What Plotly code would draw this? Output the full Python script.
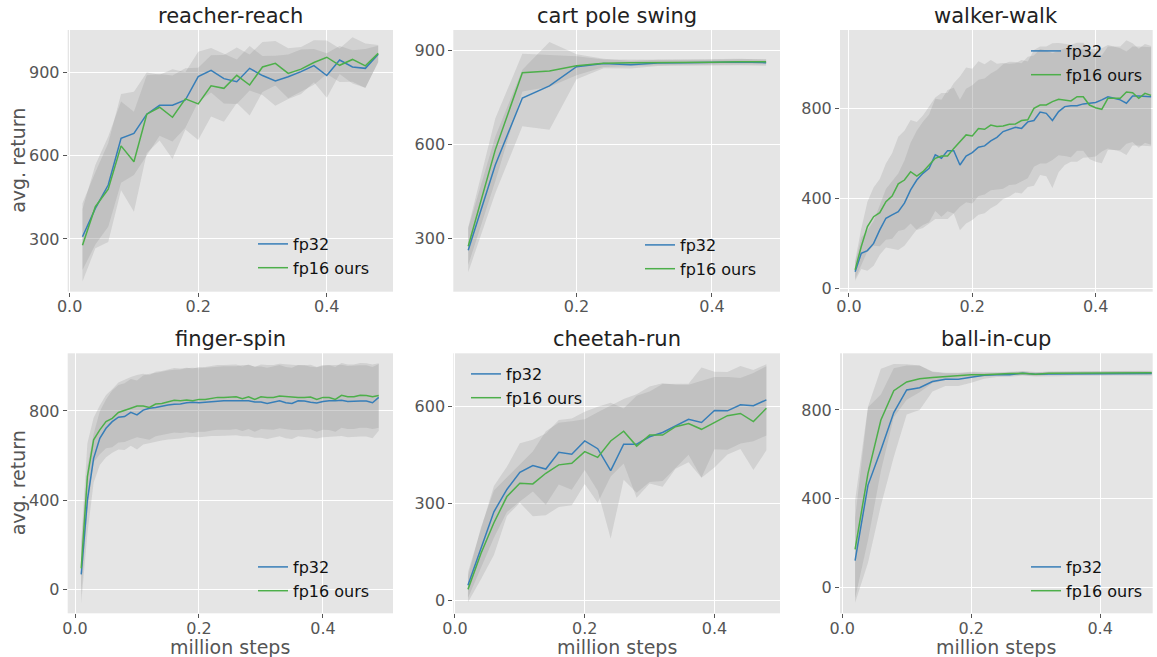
import plotly.graph_objects as go

# ---------------- data ----------------
titles = ["reacher-reach", "cart pole swing", "walker-walk",
          "finger-spin", "cheetah-run", "ball-in-cup"]
series_names = ["fp32", "fp16 ours"]

x_24 = [0.02, 0.04, 0.06, 0.08, 0.10, 0.12, 0.14, 0.16, 0.18, 0.20, 0.22, 0.24,
        0.26, 0.28, 0.30, 0.32, 0.34, 0.36, 0.38, 0.40, 0.42, 0.44, 0.46, 0.48]
x_12 = [0.04, 0.08, 0.12, 0.16, 0.20, 0.24, 0.28, 0.32, 0.36, 0.40, 0.44, 0.48]
x_49 = [0.01, 0.02, 0.03, 0.04, 0.05, 0.06, 0.07, 0.08, 0.09, 0.10,
        0.11, 0.12, 0.13, 0.14, 0.15, 0.16, 0.17, 0.18, 0.19, 0.20,
        0.21, 0.22, 0.23, 0.24, 0.25, 0.26, 0.27, 0.28, 0.29, 0.30,
        0.31, 0.32, 0.33, 0.34, 0.35, 0.36, 0.37, 0.38, 0.39, 0.40,
        0.41, 0.42, 0.43, 0.44, 0.45, 0.46, 0.47, 0.48, 0.49]

# reacher-reach
reacher_fp32 = [308, 410, 494, 662, 680, 749, 781, 781, 800, 884, 907, 877,
                866, 914, 888, 869, 884, 902, 924, 888, 944, 919, 914, 965]
reacher_fp16 = [277, 416, 479, 635, 578, 749, 774, 738, 804, 786, 851, 842,
                889, 854, 919, 932, 896, 911, 935, 954, 925, 946, 923, 968]
reacher_fp32_std = [120, 130, 150, 160, 150, 150, 110, 130, 100, 90, 80, 90,
                    80, 80, 70, 90, 80, 80, 60, 80, 50, 60, 70, 30]
reacher_fp16_std = [130, 150, 190, 160, 180, 140, 120, 150, 110, 130, 110, 120,
                    100, 110, 90, 80, 90, 80, 80, 60, 60, 80, 80, 30]

# cart pole swing
cart_fp32 = [262, 534, 747, 786, 847, 857, 853, 859, 860, 861, 862, 860]
cart_fp16 = [275, 582, 828, 833, 850, 858, 860, 860, 861, 861, 863, 863]
cart_fp32_std = [70, 90, 90, 140, 40, 15, 12, 10, 10, 10, 10, 10]
cart_fp16_std = [60, 100, 60, 50, 30, 12, 10, 8, 8, 8, 8, 8]

# walker-walk
walker_fp32 = [74, 156, 168, 200, 260, 312, 327, 341, 379, 438,
               482, 512, 534, 594, 579, 613, 613, 549, 589, 604,
               628, 634, 656, 672, 698, 709, 717, 712, 741, 747,
               785, 779, 747, 787, 809, 813, 813, 821, 824, 827,
               839, 853, 846, 839, 824, 856, 856, 856, 853]
walker_fp16 = [82, 186, 275, 319, 337, 386, 411, 465, 482, 519,
               500, 519, 549, 579, 589, 589, 623, 653, 683, 678,
               711, 708, 727, 720, 723, 730, 732, 747, 750, 801,
               816, 816, 831, 842, 839, 834, 853, 853, 816, 804,
               797, 846, 846, 846, 874, 871, 846, 868, 859]
walker_fp32_std = [40, 70, 90, 100, 110, 130, 150, 170, 190, 210,
                   220, 230, 240, 250, 260, 270, 280, 290, 300, 300,
                   300, 300, 300, 300, 300, 300, 290, 290, 290, 290,
                   280, 280, 300, 270, 260, 250, 250, 240, 240, 240,
                   230, 230, 230, 230, 230, 220, 220, 220, 220]
walker_fp16_std = [40, 80, 110, 130, 150, 170, 190, 210, 220, 230,
                   240, 250, 260, 270, 280, 280, 290, 290, 300, 300,
                   300, 290, 290, 280, 280, 270, 270, 270, 260, 260,
                   260, 260, 260, 250, 250, 250, 240, 240, 240, 240,
                   240, 230, 230, 230, 230, 220, 220, 220, 220]

# finger-spin
finger_fp32 = [66, 400, 587, 677, 722, 752, 772, 775, 794, 782,
               804, 812, 816, 822, 827, 830, 831, 837, 839, 837,
               840, 842, 843, 846, 846, 846, 846, 846, 840, 840,
               834, 840, 846, 837, 834, 846, 845, 839, 836, 842,
               846, 846, 848, 842, 845, 845, 845, 837, 861]
finger_fp16 = [93, 505, 670, 715, 752, 767, 793, 801, 812, 822,
               822, 816, 831, 834, 842, 848, 846, 849, 846, 852,
               852, 857, 861, 861, 861, 864, 855, 864, 852, 864,
               861, 861, 867, 864, 860, 860, 860, 863, 852, 861,
               860, 852, 870, 864, 864, 870, 869, 864, 869]
finger_fp32_std = [130, 150, 110, 120, 130, 140, 145, 150, 150, 155,
                   155, 155, 155, 155, 155, 155, 155, 155, 155, 155,
                   155, 155, 155, 155, 155, 155, 160, 160, 160, 160,
                   160, 160, 160, 160, 160, 160, 160, 160, 160, 160,
                   160, 160, 160, 160, 160, 160, 160, 160, 150]
finger_fp16_std = [120, 150, 100, 110, 120, 130, 135, 140, 140, 140,
                   145, 145, 145, 145, 145, 145, 145, 145, 145, 145,
                   145, 145, 145, 145, 145, 145, 145, 145, 145, 145,
                   145, 145, 145, 145, 145, 145, 145, 145, 145, 145,
                   145, 145, 145, 145, 145, 145, 145, 145, 145]

# cheetah-run
cheetah_fp32 = [48, 162, 275, 344, 397, 418, 407, 459, 453, 494, 470, 402,
                484, 484, 507, 520, 540, 561, 551, 588, 587, 606, 603, 621]
cheetah_fp16 = [35, 146, 241, 322, 363, 361, 394, 420, 425, 461, 443, 494,
                524, 478, 512, 512, 538, 548, 530, 552, 572, 579, 554, 595]
cheetah_fp32_std = [40, 60, 80, 70, 90, 80, 110, 100, 110, 90, 130, 210,
                    110, 150, 140, 150, 130, 110, 170, 120, 120, 120, 110, 110]
cheetah_fp16_std = [40, 80, 100, 60, 60, 100, 130, 130, 130, 100, 140, 110,
                    100, 160, 150, 160, 130, 120, 150, 140, 120, 110, 150, 130]

# ball-in-cup
ball_fp32 = [122, 462, 620, 788, 890, 900, 928, 938, 938, 947, 956, 958,
             959, 965, 961, 962, 962, 964, 965, 964, 965, 965, 965, 964]
ball_fp16 = [173, 515, 755, 887, 926, 940, 946, 950, 955, 959, 958, 962,
             964, 965, 961, 965, 965, 965, 967, 968, 968, 968, 968, 968]
ball_fp32_std = [190, 350, 250, 200, 110, 100, 45, 30, 30, 25, 15, 10,
                 10, 10, 10, 10, 10, 10, 10, 10, 10, 10, 10, 10]
ball_fp16_std = [220, 300, 230, 120, 80, 60, 25, 15, 10, 10, 8, 8,
                 8, 8, 8, 8, 8, 8, 8, 8, 8, 8, 8, 8]

x_ticks = [0.0, 0.2, 0.4]
x_ticklabels = ["0.0", "0.2", "0.4"]
y_ticks = [[300, 600, 900], [300, 600, 900], [0, 400, 800],
           [0, 400, 800], [0, 300, 600], [0, 400, 800]]

xs = [x_24, x_12, x_49, x_49, x_24, x_24]
fp32 = [reacher_fp32, cart_fp32, walker_fp32, finger_fp32, cheetah_fp32, ball_fp32]
fp16 = [reacher_fp16, cart_fp16, walker_fp16, finger_fp16, cheetah_fp16, ball_fp16]
fp32_std = [reacher_fp32_std, cart_fp32_std, walker_fp32_std, finger_fp32_std,
            cheetah_fp32_std, ball_fp32_std]
fp16_std = [reacher_fp16_std, cart_fp16_std, walker_fp16_std, finger_fp16_std,
            cheetah_fp16_std, ball_fp16_std]

# ---------------- layout / styles ----------------
W, H = 1157, 657
BLUE = "#377eb8"
GREEN = "#4daf4a"
BAND = "rgba(128,128,128,0.2)"
FONT = "DejaVu Sans"

col_px = [(67.7, 393.0), (453.3, 780.0), (840.0, 1152.7)]
row_px = [(30.0, 291.7), (353.3, 613.3)]
x_ranges = [[-0.003, 0.503], [0.018, 0.5005], [-0.0145, 0.4926],
            [-0.0118, 0.513], [-0.0026, 0.501], [-0.0034, 0.4815]]
y_ranges = [[110, 1052], [130, 964], [-15, 1150],
            [-109, 1059], [-39, 765], [-115, 1055]]
# legend: (left px, top px)
legend_px = [(253, 227), (640, 228), (1026, 34), (253, 550), (466, 357), (1026, 550)]

fig = go.Figure()
layout = dict(
    width=W, height=H,
    margin=dict(l=0, r=0, t=0, b=0, autoexpand=False),
    paper_bgcolor="white",
    plot_bgcolor="#E5E5E5",
    font=dict(family=FONT, size=16, color="#555555"),
    annotations=[],
)

for k in range(6):
    r, c = divmod(k, 3)
    xa = "x" if k == 0 else f"x{k+1}"
    ya = "y" if k == 0 else f"y{k+1}"
    lg = "legend" if k == 0 else f"legend{k+1}"
    x = xs[k]
    for mean, std in ((fp32[k], fp32_std[k]), (fp16[k], fp16_std[k])):
        up = [m + s for m, s in zip(mean, std)]
        lo = [m - s for m, s in zip(mean, std)]
        fig.add_trace(go.Scatter(
            x=list(x) + list(x)[::-1], y=up + lo[::-1],
            fill="toself", fillcolor=BAND, line=dict(width=0),
            mode="lines", hoverinfo="skip", showlegend=False,
            xaxis=xa, yaxis=ya))
    for name, mean, col in ((series_names[0], fp32[k], BLUE),
                            (series_names[1], fp16[k], GREEN)):
        fig.add_trace(go.Scatter(
            x=x, y=mean, mode="lines", name=name,
            line=dict(color=col, width=1.5),
            xaxis=xa, yaxis=ya, legend=lg, showlegend=True))

    x0, x1 = col_px[c]
    y0, y1 = row_px[r]
    axis_common = dict(
        showgrid=True, gridcolor="white", gridwidth=1.3,
        zeroline=False, showline=False, automargin=False,
        ticks="outside", ticklen=4, tickwidth=1, tickcolor="#555555",
        tickfont=dict(family=FONT, size=16, color="#555555"),
    )
    layout["xaxis" if k == 0 else f"xaxis{k+1}"] = dict(
        domain=[x0 / W, x1 / W], range=x_ranges[k],
        tickvals=x_ticks, ticktext=x_ticklabels, ticklabelstandoff=-4,
        anchor=ya, **axis_common)
    layout["yaxis" if k == 0 else f"yaxis{k+1}"] = dict(
        domain=[1 - y1 / H, 1 - y0 / H], range=y_ranges[k],
        tickvals=y_ticks[k], anchor=xa, **axis_common)
    lx, ly = legend_px[k]
    layout[lg] = dict(
        x=lx / W, y=1 - ly / H, xanchor="left", yanchor="top",
        bgcolor="rgba(0,0,0,0)", borderwidth=0,
        font=dict(family=FONT, size=16, color="#111111"),
        tracegroupgap=0)
    layout["annotations"].append(dict(
        text=titles[k], x=(x0 + x1) / 2 / W, y=1 - (y0 - 14) / H,
        xref="paper", yref="paper", xanchor="center", yanchor="middle",
        showarrow=False, font=dict(family=FONT, size=21, color="#222222")))
    if r == 1:
        layout["annotations"].append(dict(
            text="million steps", x=(x0 + x1) / 2 / W, y=1 - 647 / H,
            xref="paper", yref="paper", xanchor="center", yanchor="middle",
            showarrow=False, font=dict(family=FONT, size=19, color="#555555")))
    if c == 0:
        layout["annotations"].append(dict(
            text="avg. return", x=18 / W, y=1 - (y0 + y1) / 2 / H,
            xref="paper", yref="paper", xanchor="center", yanchor="middle",
            textangle=-90, showarrow=False,
            font=dict(family=FONT, size=19, color="#555555")))

fig.update_layout(**layout)
fig.write_html("out.html",
               config={"displayModeBar": False},
               post_script="document.body.style.margin='0';"
                           "document.body.style.overflow='hidden';")
